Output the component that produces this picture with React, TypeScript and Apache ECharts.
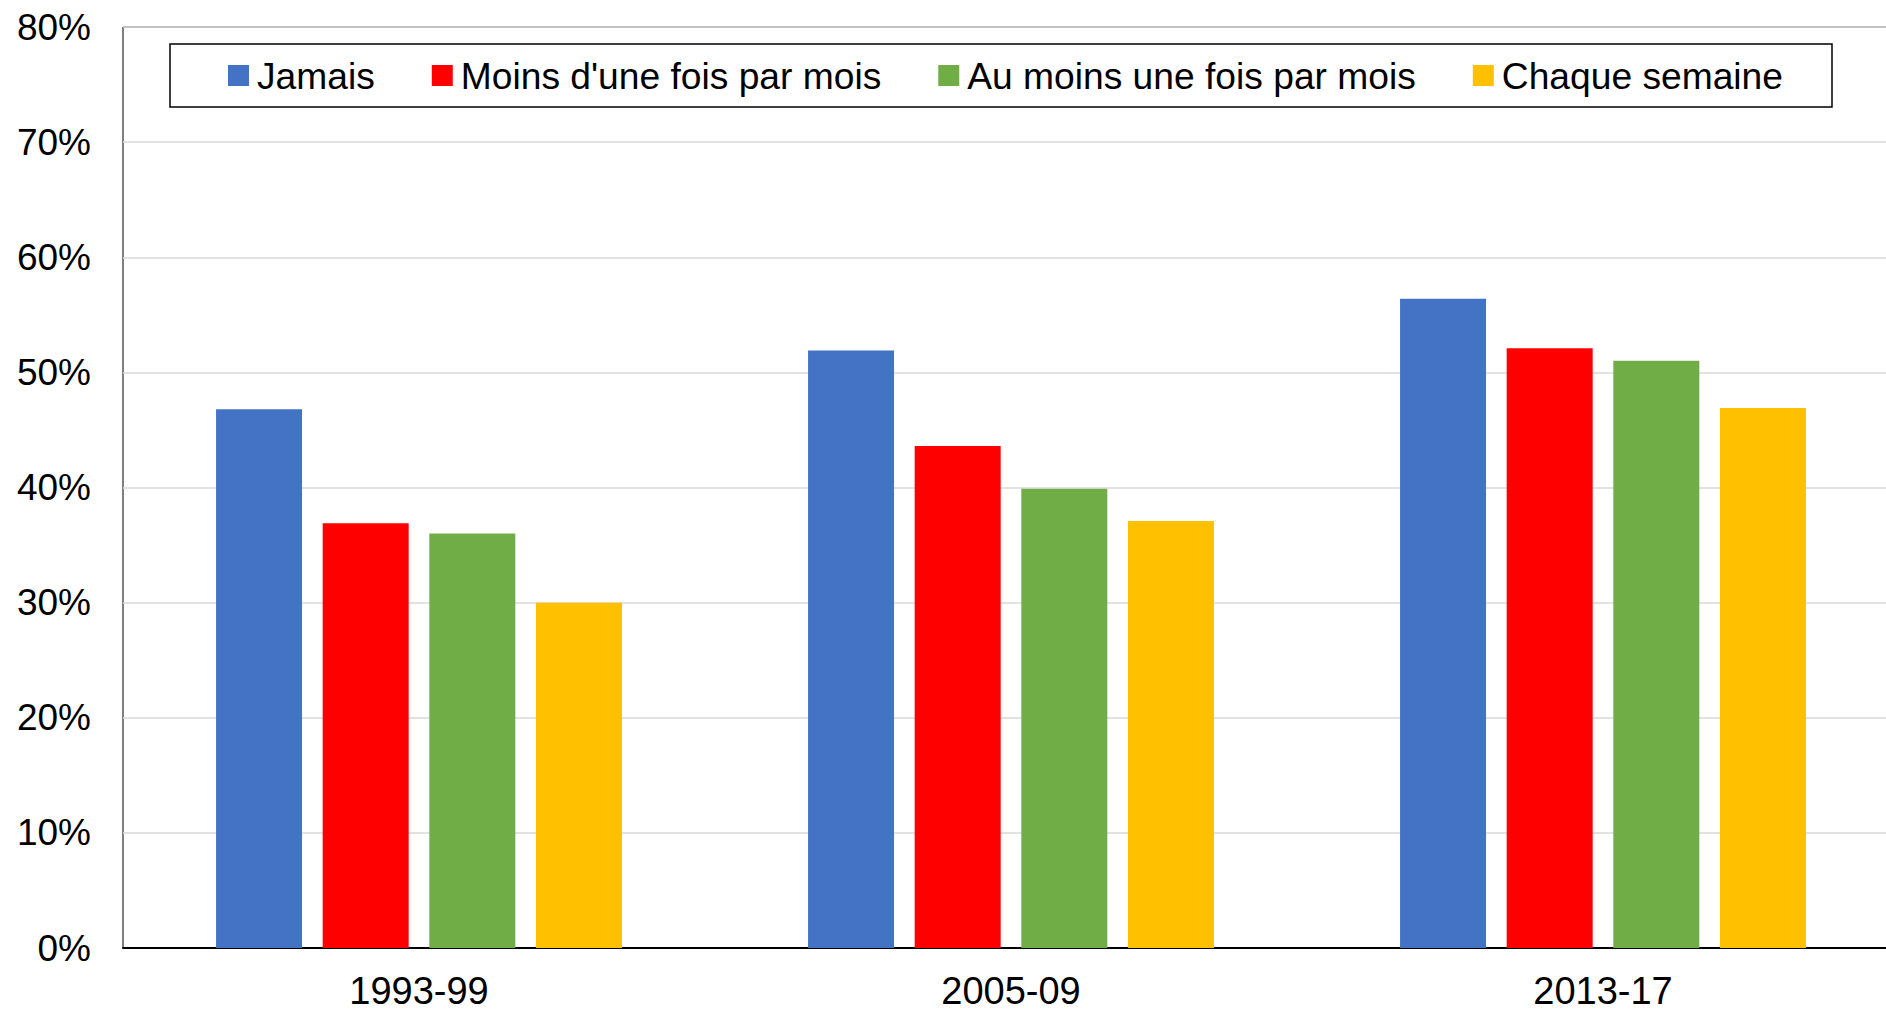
import React, { useEffect, useRef } from "react";
import * as echarts from "echarts";

const categories = ["1993-99", "2005-09", "2013-17"];
const seriesNames = ["Jamais", "Moins d'une fois par mois", "Au moins une fois par mois", "Chaque semaine"];
const jamais = [46.8, 51.9, 56.4];
const moinsUneFois = [36.9, 43.6, 52.1];
const auMoinsUneFois = [36.0, 39.9, 51.0];
const chaqueSemaine = [30.0, 37.1, 46.9];
const colors = ["#4472C4", "#FF0000", "#70AD47", "#FFC000"];
const yTicks = { min: 0, max: 80, interval: 10 };

const FONT = "'Liberation Sans', Arial, sans-serif";

export default function App() {
  const ref = useRef<HTMLDivElement>(null);
  useEffect(() => {
    if (!ref.current) return;
    const chart = echarts.init(ref.current, undefined, { renderer: "svg" });
    const values = [jamais, moinsUneFois, auMoinsUneFois, chaqueSemaine];
    chart.setOption({
      animation: false,
      backgroundColor: "#ffffff",
      textStyle: { fontFamily: FONT },
      grid: {
        left: 123,
        right: 0,
        top: 27,
        bottom: 60,
        show: true,
        borderColor: "#000000",
        borderWidth: 1,
        backgroundColor: "transparent",
      },
      graphic: [
        {
          type: "rect",
          shape: { x: 170, y: 44, width: 1662, height: 63 },
          style: { fill: "#ffffff", stroke: "#000000", lineWidth: 1.5 },
          z: 5,
        },
      ],
      legend: {
        left: 228,
        top: 57,
        padding: 0,
        itemWidth: 21,
        itemHeight: 21,
        itemGap: 57,
        icon: "rect",
        z: 10,
        textStyle: {
          fontSize: 37.2,
          color: "#000000",
          fontFamily: FONT,
          padding: [0, 0, 0, 3],
        },
        data: seriesNames,
      },
      xAxis: {
        type: "category",
        data: categories,
        axisLine: { show: true, lineStyle: { color: "#000000", width: 2 } },
        axisTick: { show: false },
        axisLabel: {
          fontSize: 38,
          lineHeight: 30,
          color: "#000000",
          margin: 28,
          fontFamily: FONT,
        },
        splitLine: { show: false },
      },
      yAxis: {
        type: "value",
        min: yTicks.min,
        max: yTicks.max,
        interval: yTicks.interval,
        axisLine: { show: false },
        axisTick: { show: false },
        axisLabel: {
          fontSize: 37,
          color: "#000000",
          margin: 32,
          fontFamily: FONT,
          formatter: "{value}%",
        },
        splitLine: { show: true, lineStyle: { color: "#D9D9D9", width: 1.5 } },
      },
      series: seriesNames.map((name, i) => ({
        name,
        type: "bar",
        data: values[i],
        barWidth: 86,
        barGap: "24%",
        itemStyle: { color: colors[i] },
      })),
    });
    return () => chart.dispose();
  }, []);
  return (
    <div
      style={{
        position: "fixed",
        left: 0,
        top: 0,
        width: 1886,
        height: 1010,
        overflow: "hidden",
        background: "#ffffff",
      }}
    >
      <div ref={ref} style={{ width: 1899, height: 1010 }} />
    </div>
  );
}
